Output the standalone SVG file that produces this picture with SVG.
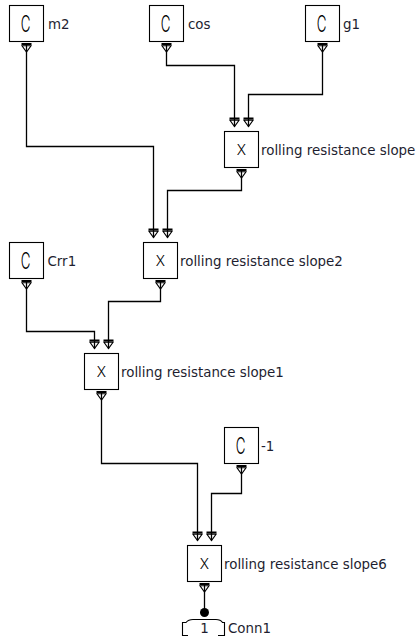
<svg xmlns="http://www.w3.org/2000/svg" xmlns:xlink="http://www.w3.org/1999/xlink" width="418" height="638" viewBox="0 0 418 638">
<defs>
<style>
.box{fill:#fff;stroke:#000;stroke-width:1.1}
.glyphC{font-family:Inter,"Liberation Sans",sans-serif;font-weight:300;font-size:23px;fill:#000;text-anchor:middle}
.glyphX{font-family:Inter,"Liberation Sans",sans-serif;font-weight:300;font-size:14px;fill:#000;text-anchor:middle}
.lbl{font-family:"DejaVu Sans",Verdana,sans-serif;font-size:13.4px;fill:#1e1e30}
.port{fill:none;stroke:#000;stroke-width:1.1}
.wire{fill:none;stroke:#000;stroke-width:1.3}
</style>
<g id="port"><path class="port" d="M-5,0.5 H5 M-5,1.5 H5 M-4.5,2.8 H4.5 L0,9 Z"/></g>
</defs>
<rect width="418" height="638" fill="#fff"/>

<g id="node-m2">
<rect class="box" x="9.5" y="5.5" width="34" height="36"/>
<text class="glyphC" transform="translate(25.5,32) scale(0.58,1)">C</text>
<text class="lbl" x="48" y="28.5">m2</text>
<use xlink:href="#port" x="26.5" y="43"/>
</g>
<g id="node-cos">
<rect class="box" x="149.5" y="5.5" width="34" height="36"/>
<text class="glyphC" transform="translate(165.5,32) scale(0.58,1)">C</text>
<text class="lbl" x="188" y="28.5">cos</text>
<use xlink:href="#port" x="166.5" y="43"/>
</g>
<g id="node-g1">
<rect class="box" x="305.5" y="5.5" width="34" height="36"/>
<text class="glyphC" transform="translate(321.5,32) scale(0.58,1)">C</text>
<text class="lbl" x="343" y="28.5">g1</text>
<use xlink:href="#port" x="322.5" y="43"/>
</g>
<g id="node-slope">
<rect class="box" x="224.5" y="131.5" width="34" height="36"/>
<text class="glyphX" x="241.5" y="154.5">X</text>
<text class="lbl" x="261" y="155">rolling resistance slope</text>
<use xlink:href="#port" x="234.5" y="117.5"/>
<use xlink:href="#port" x="248.5" y="117.5"/>
<use xlink:href="#port" x="241.5" y="169"/>
</g>
<g id="node-slope2">
<rect class="box" x="143.5" y="242.5" width="34" height="36"/>
<text class="glyphX" x="160.5" y="265.5">X</text>
<text class="lbl" x="180" y="266">rolling resistance slope2</text>
<use xlink:href="#port" x="153.5" y="228.5"/>
<use xlink:href="#port" x="167.5" y="228.5"/>
<use xlink:href="#port" x="160.5" y="280"/>
</g>
<g id="node-Crr1">
<rect class="box" x="9.5" y="242.5" width="34" height="36"/>
<text class="glyphC" transform="translate(25.5,269) scale(0.58,1)">C</text>
<text class="lbl" x="47.5" y="266">Crr1</text>
<use xlink:href="#port" x="26.5" y="280"/>
</g>
<g id="node-slope1">
<rect class="box" x="84.5" y="353.5" width="34" height="36"/>
<text class="glyphX" x="101.5" y="376.5">X</text>
<text class="lbl" x="121" y="377">rolling resistance slope1</text>
<use xlink:href="#port" x="94.5" y="339.5"/>
<use xlink:href="#port" x="108.5" y="339.5"/>
<use xlink:href="#port" x="101.5" y="391"/>
</g>
<g id="node-minus1">
<rect class="box" x="224.5" y="427.5" width="34" height="36"/>
<text class="glyphC" transform="translate(240.5,454) scale(0.58,1)">C</text>
<text class="lbl" x="261" y="451">-1</text>
<use xlink:href="#port" x="241.5" y="465"/>
</g>
<g id="node-slope6">
<rect class="box" x="187.5" y="545.5" width="34" height="36"/>
<text class="glyphX" x="204.5" y="568.5">X</text>
<text class="lbl" x="224" y="569">rolling resistance slope6</text>
<use xlink:href="#port" x="197.5" y="531.5"/>
<use xlink:href="#port" x="211.5" y="531.5"/>
<use xlink:href="#port" x="204.5" y="583"/>
</g>
<g id="node-Conn1">
<path d="M188,635.5 H182.5 V622.5 H186 Q188.5,619.5 193,619.5 H216 Q220.5,619.5 222.5,622.5 H224.5 V635.5 H218" fill="none" stroke="#000" stroke-width="1.1"/>
<text class="lbl" x="204.5" y="633" text-anchor="middle" font-size="12" fill="#3a1a50">1</text>
<text class="lbl" x="228" y="633">Conn1</text>
</g>

<g id="connectors">
<path class="wire" d="M26.5,43 V146.5 H153.5 V237.5"/>
<path class="wire" d="M166.5,43 V65.5 H234.5 V126.5"/>
<path class="wire" d="M322.5,43 V94.5 H248.5 V126.5"/>
<path class="wire" d="M241.5,169 V190.5 H167.5 V237.5"/>
<path class="wire" d="M26.5,280 V331.5 H94.5 V348.5"/>
<path class="wire" d="M160.5,280 V301.5 H108.5 V348.5"/>
<path class="wire" d="M101.5,391 V463.5 H197.5 V540.5"/>
<path class="wire" d="M241.5,465 V493.5 H211.5 V540.5"/>
<path class="wire" d="M204.5,583 V612"/>
<circle cx="204.5" cy="612.5" r="4.5" fill="#000"/>
</g>
</svg>
